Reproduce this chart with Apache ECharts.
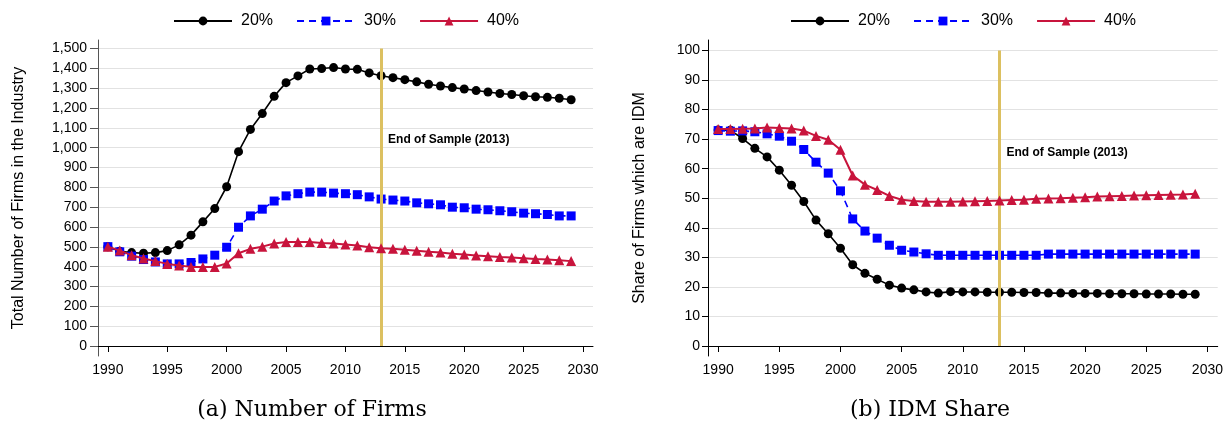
<!DOCTYPE html>
<html>
<head>
<meta charset="utf-8">
<script src="https://cdn.jsdelivr.net/npm/echarts@6/dist/echarts.min.js"></script>
<style>html,body{margin:0;padding:0;background:#fff;}#c{width:1226px;height:424px;}</style>
</head>
<body>
<div id="c"></div>
<script>
var years = [1990,1991,1992,1993,1994,1995,1996,1997,1998,1999,2000,2001,2002,2003,2004,2005,2006,2007,2008,2009,2010,2011,2012,2013,2014,2015,2016,2017,2018,2019,2020,2021,2022,2023,2024,2025,2026,2027,2028,2029];
var seriesNames = ['20%','30%','40%'];
// Panel (a): number of firms
var firms20 = [500,478,471,468,471,481,510,559,626,693,803,980,1092,1172,1259,1328,1362,1397,1399,1404,1397,1395,1377,1363,1353,1343,1332,1320,1311,1303,1296,1288,1281,1273,1268,1262,1257,1254,1249,1242];
var firms30 = [501,475,453,436,424,414,414,421,439,458,498,599,656,690,731,757,768,776,776,771,768,763,752,741,736,731,722,717,712,700,697,690,687,682,677,670,667,663,656,656];
var firms40 = [501,481,458,441,428,414,406,399,399,399,416,468,490,501,517,524,524,524,520,517,512,507,498,493,490,485,480,475,471,465,461,456,453,449,446,443,439,436,433,428];
// Panel (b): IDM share
var idm20 = [73.1,73.0,70.2,66.9,64.0,59.5,54.4,48.9,42.6,38.0,33.1,27.5,24.6,22.6,20.6,19.6,19.0,18.3,17.9,18.4,18.3,18.3,18.2,18.2,18.2,18.1,18.1,17.9,17.9,17.8,17.8,17.8,17.7,17.7,17.7,17.6,17.6,17.6,17.5,17.5];
var idm30 = [72.9,72.7,72.8,72.5,71.8,71.0,69.3,66.5,62.2,58.5,52.5,43.0,38.9,36.5,34.1,32.4,31.8,31.2,30.7,30.7,30.7,30.7,30.7,30.7,30.7,30.7,30.7,31.1,31.1,31.1,31.1,31.1,31.1,31.1,31.1,31.1,31.1,31.1,31.1,31.1];
var idm40 = [73.4,73.4,73.5,73.6,73.9,73.8,73.6,72.9,71.1,69.8,66.4,57.7,54.6,52.8,50.8,49.5,49.1,48.8,48.8,48.8,48.9,49.0,49.1,49.2,49.4,49.5,49.8,49.9,50.0,50.2,50.3,50.6,50.7,50.8,50.9,51.0,51.1,51.2,51.3,51.5];
var xTicks = [1990,1995,2000,2005,2010,2015,2020,2025,2030];
var firmsTicks = [0,100,200,300,400,500,600,700,800,900,1000,1100,1200,1300,1400,1500];
var shareTicks = [0,10,20,30,40,50,60,70,80,90,100];
var endYear = 2013;
var endLabel = 'End of Sample (2013)';
var captions = ['(a) Number of Firms','(b) IDM Share'];

function pairs(vals){ return years.map(function(y,i){ return [y, vals[i]]; }); }

var FONT = 'Liberation Sans';
var colors = ['#000000','#0000ff','#c8143c'];
var symbols = ['circle','rect','triangle'];
var symSizes = [9,9,10];
var lineTypes = ['solid',[7,5],'solid'];
var lineWidths = [1.6,1.6,2];

function xAxisOpt(gi){
  return {
    type:'value', gridIndex:gi, min:1989.17, max:2030.84,
    axisLine:{show:true,lineStyle:{color:'#000',width:1}},
    axisTick:{show:true,length:6,customValues:xTicks,lineStyle:{color:'#000'}},
    axisLabel:{customValues:xTicks,color:'#000',fontFamily:FONT,fontSize:14,margin:7,formatter:function(v){return String(v);}},
    splitLine:{show:false}
  };
}
function yAxisOpt(gi,min,max,ticks,name,gap,fmt,tickLen,margin){
  var ac = gi===0?'#555':'#000';
  return {
    type:'value', gridIndex:gi, min:min, max:max,
    name:name, nameLocation:'middle', nameGap:gap,
    nameTextStyle:{color:'#000',fontFamily:FONT,fontSize:16},
    axisLine:{show:true,lineStyle:{color:ac,width:1}},
    axisTick:{show:true,length:tickLen,customValues:ticks,lineStyle:{color:ac}},
    axisLabel:{customValues:ticks,color:'#000',fontFamily:FONT,fontSize:14,margin:margin,formatter:fmt},
    splitLine:{show:true,lineStyle:{color:'#e2e2e2',width:1}}
  };
}
function mkSeries(gi,datas,lineTop,labelY){
  return datas.map(function(d,i){
    var s = {
      name:seriesNames[i], type:'line', xAxisIndex:gi, yAxisIndex:gi,
      data:pairs(d), symbol:symbols[i], symbolSize:symSizes[i], showSymbol:true,
      itemStyle:{color:colors[i]},
      lineStyle:{color:colors[i],width:lineWidths[i],type:lineTypes[i]},
      animation:false, z:3+i
    };
    if(i===0){
      s.markLine = {
        silent:true, symbol:['none','none'], animation:false,
        lineStyle:{color:'#dcc060',width:3,type:'solid'},
        label:{show:false},
        data:[[{coord:[endYear,0]},{coord:[endYear,lineTop]}]]
      };
      s.markPoint = {
        silent:true, symbol:'circle', symbolSize:0, animation:false,
        label:{show:true,position:'right',distance:7,formatter:endLabel,color:'#000',fontFamily:FONT,fontSize:12,fontWeight:'bold'},
        data:[{coord:[endYear,labelY]}]
      };
    }
    return s;
  });
}
function legendOpt(left){
  return {
    left:left, top:8, itemWidth:58, itemHeight:11, itemGap:23,
    data:seriesNames,
    textStyle:{color:'#000',fontFamily:FONT,fontSize:16,padding:[0,0,0,4]}
  };
}

var chart = echarts.init(document.getElementById('c'),null,{renderer:'canvas'});
chart.setOption({
  animation:false,
  backgroundColor:'#fff',
  grid:[
    {left:98,right:633,top:40,bottom:68,containLabel:false},
    {left:708,right:8,top:40,bottom:68,containLabel:false}
  ],
  legend:[legendOpt(168),legendOpt(785)],
  xAxis:[xAxisOpt(0),xAxisOpt(1)],
  yAxis:[
    yAxisOpt(0,-50.4,1543,firmsTicks,'Total Number of Firms in the Industry',71,function(v){return v.toLocaleString('en-US');},8,11),
    yAxisOpt(1,-3.38,103.55,shareTicks,'Share of Firms which are IDM',60,function(v){return String(v);},6,8)
  ],
  series:[].concat(
    mkSeries(0,[firms20,firms30,firms40],1500,1040),
    mkSeries(1,[idm20,idm30,idm40],100,65.3)
  ),
  graphic:[
    {type:'text',x:312,y:410,style:{text:captions[0],fill:'#000',font:'22px "DejaVu Serif"',align:'center',verticalAlign:'middle'}},
    {type:'text',x:930,y:410,style:{text:captions[1],fill:'#000',font:'22px "DejaVu Serif"',align:'center',verticalAlign:'middle'}}
  ]
});
</script>
</body>
</html>
